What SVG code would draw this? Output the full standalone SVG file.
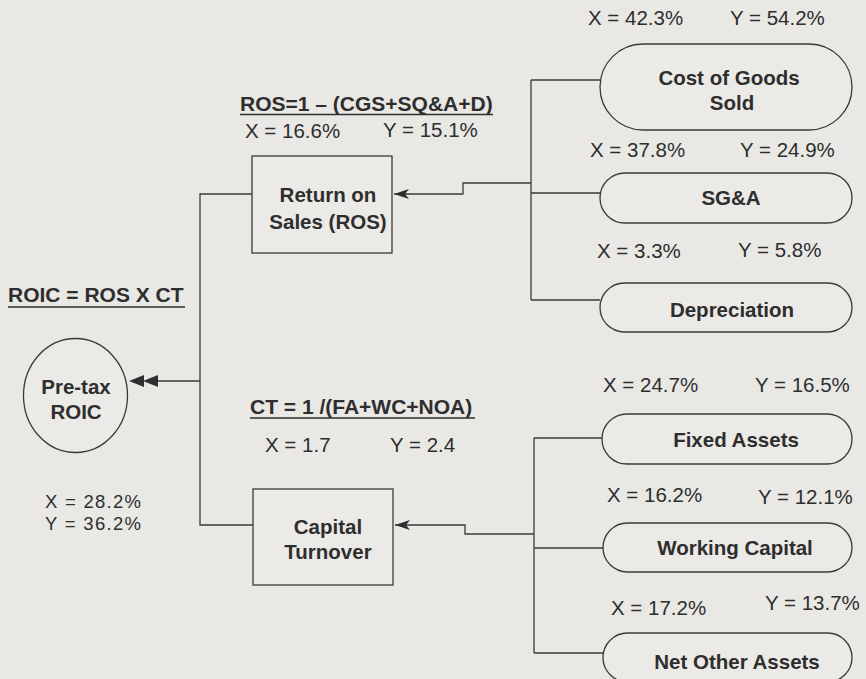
<svg xmlns="http://www.w3.org/2000/svg" width="866" height="679" viewBox="0 0 866 679">
<style>
.bg{fill:#e9e8e5}
.shape{fill:#eceae7;stroke:#3a3a3a;stroke-width:1.3}
.conn{fill:none;stroke:#3a3a3a;stroke-width:1.3}
.b{font-family:"Liberation Sans",Arial,sans-serif;font-weight:bold;font-size:20.5px;fill:#2e2e2e;text-anchor:middle}
.bl{font-family:"Liberation Sans",Arial,sans-serif;font-weight:bold;font-size:21px;fill:#2e2e2e}
.r{font-family:"Liberation Sans",Arial,sans-serif;font-size:20.5px;fill:#2e2e2e}
.rs{font-family:"Liberation Sans",Arial,sans-serif;font-size:18.5px;fill:#2e2e2e}
.ul{stroke:#2e2e2e;stroke-width:1.5}
</style>
<defs>
<marker id="arr" markerWidth="16" markerHeight="12" refX="15" refY="6" orient="auto" markerUnits="userSpaceOnUse">
<path d="M0,1 L15,6 L0,11 L4,6 z" fill="#2e2e2e"/>
</marker>
</defs>
<rect class="bg" x="0" y="0" width="866" height="679"/>

<g id="connectors">
<path class="conn" d="M531,80 V300 M531,80 H600 M531,193 H600 M531,300 H600"/>
<path class="conn" d="M531,183 H463 V194 H394" marker-end="url(#arr)"/>
<path class="conn" d="M534,438 V653 M534,438 H602 M534,548 H603 M534,653 H603"/>
<path class="conn" d="M534,534 H465 V525 H395" marker-end="url(#arr)"/>
<path class="conn" d="M252,194 H200 V525 H253"/>
<path class="conn" d="M200,381 H156"/>
<path d="M158,375 L143,381 L158,387 z M144,375 L129,381 L144,387 z" fill="#2e2e2e"/>
</g>

<g id="roic">
<ellipse class="shape" cx="75.5" cy="395.5" rx="52" ry="57"/>
<text class="b" x="76" y="394">Pre-tax</text>
<text class="b" x="76" y="419">ROIC</text>
<text class="bl" x="8" y="302">ROIC = ROS X CT</text>
<line class="ul" x1="8" y1="307" x2="185" y2="307"/>
<text class="rs" x="45" y="508" textLength="96" lengthAdjust="spacing">X = 28.2%</text>
<text class="rs" x="45" y="529.5" textLength="96" lengthAdjust="spacing">Y = 36.2%</text>
</g>

<g id="ros">
<rect class="shape" x="252" y="156" width="140" height="97"/>
<text class="b" x="328" y="202">Return on</text>
<text class="b" x="328" y="229">Sales (ROS)</text>
<text class="bl" x="240" y="111">ROS=1 – (CGS+SQ&amp;A+D)</text>
<line class="ul" x1="240" y1="114.5" x2="493" y2="114.5"/>
<text class="r" x="245" y="138">X = 16.6%</text>
<text class="r" x="383" y="137">Y = 15.1%</text>
</g>

<g id="ct">
<rect class="shape" x="253" y="489" width="140" height="96"/>
<text class="b" x="328" y="534">Capital</text>
<text class="b" x="328" y="559">Turnover</text>
<text class="bl" x="250" y="414">CT = 1 /(FA+WC+NOA)</text>
<line class="ul" x1="250" y1="418" x2="475" y2="418"/>
<text class="r" x="265" y="452">X = 1.7</text>
<text class="r" x="390" y="452">Y = 2.4</text>
</g>

<g id="cgs">
<rect class="shape" x="600" y="44" width="252" height="86" rx="43"/>
<text class="b" x="729" y="85">Cost of Goods</text>
<text class="b" x="732" y="110">Sold</text>
<text class="r" x="588" y="25">X = 42.3%</text>
<text class="r" x="730" y="25">Y = 54.2%</text>
</g>

<g id="sga">
<rect class="shape" x="600" y="173" width="252" height="50" rx="25"/>
<text class="b" x="731" y="205">SG&amp;A</text>
<text class="r" x="590" y="157">X = 37.8%</text>
<text class="r" x="740" y="157">Y = 24.9%</text>
</g>

<g id="dep">
<rect class="shape" x="600" y="283" width="252" height="49" rx="24.5"/>
<text class="b" x="732" y="317">Depreciation</text>
<text class="r" x="597" y="258">X = 3.3%</text>
<text class="r" x="738" y="257">Y = 5.8%</text>
</g>

<g id="fa">
<rect class="shape" x="602" y="414" width="250" height="50" rx="25"/>
<text class="b" x="736" y="447">Fixed Assets</text>
<text class="r" x="603" y="392">X = 24.7%</text>
<text class="r" x="755" y="392">Y = 16.5%</text>
</g>

<g id="wc">
<rect class="shape" x="603" y="523" width="249" height="49" rx="24.5"/>
<text class="b" x="735" y="555">Working Capital</text>
<text class="r" x="607" y="502">X = 16.2%</text>
<text class="r" x="758" y="504">Y = 12.1%</text>
</g>

<g id="noa">
<rect class="shape" x="603" y="633" width="249" height="49" rx="24.5"/>
<text class="b" x="737" y="669">Net Other Assets</text>
<text class="r" x="611" y="615">X = 17.2%</text>
<text class="r" x="765" y="610">Y = 13.7%</text>
</g>
</svg>
